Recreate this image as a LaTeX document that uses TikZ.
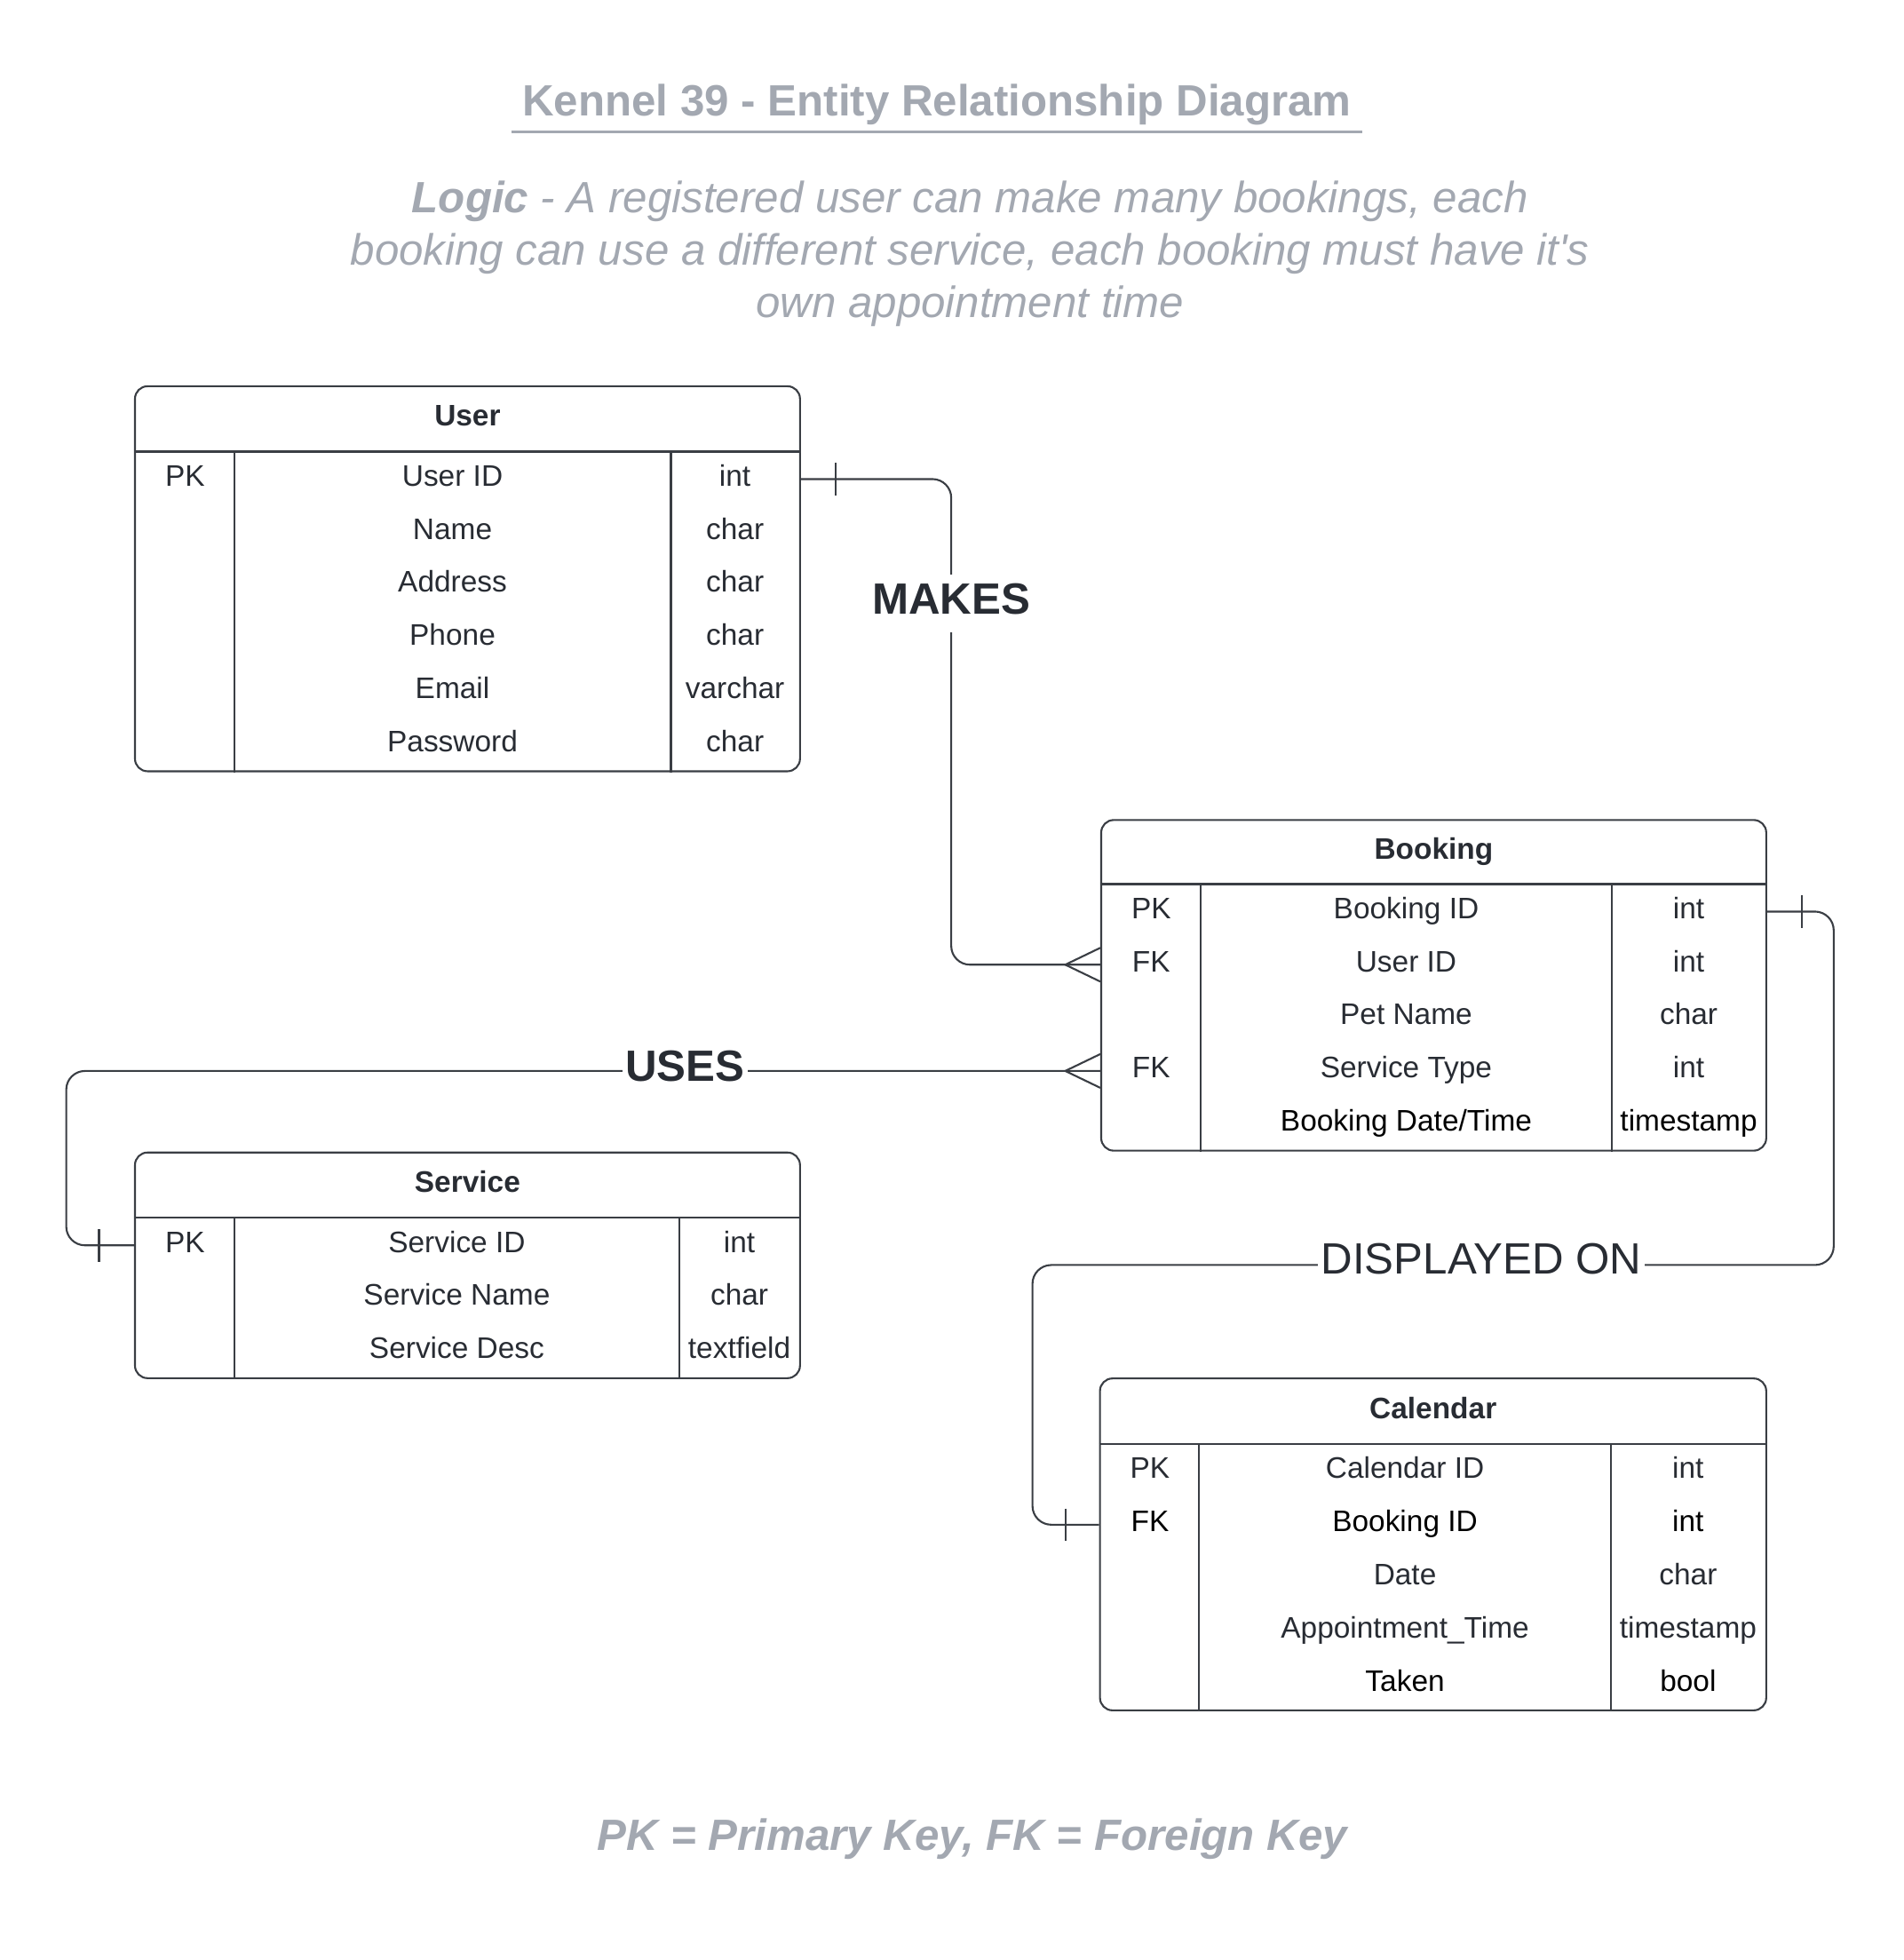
\documentclass[tikz,border=0pt]{standalone}
\usepackage{fontspec}
\setmainfont{Liberation Sans}
\usetikzlibrary{calc}
\definecolor{ergray}{RGB}{163,168,177}
\definecolor{erink}{RGB}{40,44,51}
\definecolor{erline}{RGB}{58,62,68}

\begin{document}
\begin{tikzpicture}[
    x=0.4pt, y=-0.4pt,
    entity/.style={draw=erline, line width=0.6pt, rounded corners=4pt, inner sep=0pt},
    divider/.style={draw=erline, line width=0.6pt},
    cell/.style={inner sep=0pt, text height=6pt, text depth=1.6pt, font=\fontsize{9.5}{11}\selectfont, text=erink},
    cellk/.style={cell, text=black},
    head/.style={cell, font=\fontsize{9.5}{11}\selectfont\bfseries},
    link/.style={draw=erline, line width=0.6pt, rounded corners=6pt},
    tickmark/.style={draw=erline, line width=0.6pt},
    relname/.style={fill=white, inner xsep=1pt, inner ysep=2.6pt, text height=10pt, text depth=3.2pt, text=erink, font=\fontsize{14}{16}\selectfont},
    note/.style={text=ergray, align=center, font=\fontsize{14}{16.8}\selectfont}
]
    \useasboundingbox (0,0) rectangle (1523,1568);

    % heading
    \node[note, font=\fontsize{14}{16.8}\selectfont\bfseries, text height=10pt, text depth=0pt, inner xsep=3.4pt, inner ysep=5pt] (title) at (749.5,80) {Kennel 39 - Entity Relationship Diagram};
    \draw[ergray, line width=0.8pt] (title.south west) -- (title.south east);
    \node[note, font=\fontsize{14}{16.8}\selectfont\itshape] (logic) at (776,203) {\textbf{Logic} - A registered user can make many bookings, each\\booking can use a different service, each booking must have it\textquotesingle s\\own appointment time};

    % User
    \node[entity, minimum width=212.8pt, minimum height=123.2pt] (user) at (374,463) {};
    \draw[divider] ($(user.north west)+(0,53)$) -- ($(user.north east)+(0,53)$);
    \draw[divider] ($(user.north west)+(80,53)$) -- ($(user.south west)+(80,0)$);
    \draw[divider] ($(user.north east)+(-104,53)$) -- ($(user.south east)+(-104,0)$);
    \node[head] (userHead) at (374,335.5) {User};
    \node[cell] (userPK) at (148,383.25) {PK};
    \node[cell] (userId) at (362,383.25) {User ID};
    \node[cell] (userIdT) at (588,383.25) {int};
    \node[cell] (userName) at (362,425.75) {Name};
    \node[cell] (userNameT) at (588,425.75) {char};
    \node[cell] (userAddr) at (362,468.25) {Address};
    \node[cell] (userAddrT) at (588,468.25) {char};
    \node[cell] (userPhone) at (362,510.75) {Phone};
    \node[cell] (userPhoneT) at (588,510.75) {char};
    \node[cell] (userMail) at (362,553.25) {Email};
    \node[cell] (userMailT) at (588,553.25) {varchar};
    \node[cell] (userPass) at (362,595.75) {Password};
    \node[cell] (userPassT) at (588,595.75) {char};

    % Booking
    \node[entity, minimum width=212.8pt, minimum height=105.8pt] (booking) at (1147,788.25) {};
    \draw[divider] ($(booking.north west)+(0,52)$) -- ($(booking.north east)+(0,52)$);
    \draw[divider] ($(booking.north west)+(80,52)$) -- ($(booking.south west)+(80,0)$);
    \draw[divider] ($(booking.north east)+(-124,52)$) -- ($(booking.south east)+(-124,0)$);
    \node[head] (bkHead) at (1147,682) {Booking};
    \node[cell] (bkPK) at (921,729.25) {PK};
    \node[cell] (bkId) at (1125,729.25) {Booking ID};
    \node[cell] (bkIdT) at (1351,729.25) {int};
    \node[cell] (bkUserFK) at (921,771.75) {FK};
    \node[cell] (bkUser) at (1125,771.75) {User ID};
    \node[cell] (bkUserT) at (1351,771.75) {int};
    \node[cell] (bkPet) at (1125,814.25) {Pet Name};
    \node[cell] (bkPetT) at (1351,814.25) {char};
    \node[cell] (bkServFK) at (921,856.75) {FK};
    \node[cell] (bkServ) at (1125,856.75) {Service Type};
    \node[cell] (bkServT) at (1351,856.75) {int};
    \node[cellk] (bkDate) at (1125,899.25) {Booking Date/Time};
    \node[cellk] (bkDateT) at (1351,899.25) {timestamp};

    % Service
    \node[entity, minimum width=212.8pt, minimum height=72.2pt] (service) at (374,1012.25) {};
    \draw[divider] ($(service.north west)+(0,53)$) -- ($(service.north east)+(0,53)$);
    \draw[divider] ($(service.north west)+(80,53)$) -- ($(service.south west)+(80,0)$);
    \draw[divider] ($(service.north east)+(-97,53)$) -- ($(service.south east)+(-97,0)$);
    \node[head] (svHead) at (374,948.5) {Service};
    \node[cell] (svPK) at (148,996.25) {PK};
    \node[cell] (svId) at (365.5,996.25) {Service ID};
    \node[cell] (svIdT) at (591.5,996.25) {int};
    \node[cell] (svName) at (365.5,1038.75) {Service Name};
    \node[cell] (svNameT) at (591.5,1038.75) {char};
    \node[cell] (svDesc) at (365.5,1081.25) {Service Desc};
    \node[cell] (svDescT) at (591.5,1081.25) {textfield};

    % Calendar
    \node[entity, minimum width=213.2pt, minimum height=106.2pt] (calendar) at (1146.5,1235.5) {};
    \draw[divider] ($(calendar.north west)+(0,53)$) -- ($(calendar.north east)+(0,53)$);
    \draw[divider] ($(calendar.north west)+(80,53)$) -- ($(calendar.south west)+(80,0)$);
    \draw[divider] ($(calendar.north east)+(-125,53)$) -- ($(calendar.south east)+(-125,0)$);
    \node[head] (calHead) at (1146.5,1129.5) {Calendar};
    \node[cell] (calPK) at (920,1177.25) {PK};
    \node[cell] (calId) at (1124,1177.25) {Calendar ID};
    \node[cell] (calIdT) at (1350.5,1177.25) {int};
    \node[cellk] (calFK) at (920,1219.75) {FK};
    \node[cellk] (calBk) at (1124,1219.75) {Booking ID};
    \node[cellk] (calBkT) at (1350.5,1219.75) {int};
    \node[cell] (calDate) at (1124,1262.25) {Date};
    \node[cell] (calDateT) at (1350.5,1262.25) {char};
    \node[cell] (calTime) at (1124,1304.75) {Appointment\_Time};
    \node[cell] (calTimeT) at (1350.5,1304.75) {timestamp};
    \node[cellk] (calTaken) at (1124,1347.25) {Taken};
    \node[cellk] (calTakenT) at (1350.5,1347.25) {bool};

    % relationships
    \coordinate (makesTurn) at (761,0);
    \coordinate (usesTurn) at (53,0);
    \coordinate (dispRight) at (1467,1012);
    \coordinate (dispLeft) at (826,1012);

    \draw[link] (user.east |- userPK) -| (makesTurn |- bkUserFK) -- (booking.west |- bkUserFK);
    \draw[link] (booking.west |- bkServFK) -| (usesTurn |- svPK) -- (service.west |- svPK);
    \draw[link] (booking.east |- bkPK) -| (dispRight) -| (dispLeft |- calFK) -- (calendar.west |- calFK);

    % one bars
    \draw[tickmark] ($(user.east |- userPK)+(28,-13)$) -- ($(user.east |- userPK)+(28,13)$);
    \draw[tickmark] ($(service.west |- svPK)+(-28,-13)$) -- ($(service.west |- svPK)+(-28,13)$);
    \draw[tickmark] ($(booking.east |- bkPK)+(28,-13)$) -- ($(booking.east |- bkPK)+(28,13)$);
    \draw[tickmark] ($(calendar.west |- calFK)+(-27,-13)$) -- ($(calendar.west |- calFK)+(-27,13)$);
    % crow's feet
    \draw[tickmark] ($(booking.west |- bkUserFK)+(0,-13.5)$) -- ($(booking.west |- bkUserFK)+(-28,0)$) -- ($(booking.west |- bkUserFK)+(0,13.5)$);
    \draw[tickmark] ($(booking.west |- bkServFK)+(0,-13.5)$) -- ($(booking.west |- bkServFK)+(-28,0)$) -- ($(booking.west |- bkServFK)+(0,13.5)$);

    \node[relname, font=\fontsize{14}{16}\selectfont\bfseries] (makes) at (761,483) {MAKES};
    \node[relname, font=\fontsize{14}{16}\selectfont\bfseries] (uses) at (548,856.5) {USES};
    \node[relname] (displayed) at (1185,1011) {DISPLAYED ON};

    % legend
    \node[note, font=\fontsize{14}{16.8}\selectfont\bfseries\itshape, text height=10pt, text depth=0pt] (legend) at (778,1468) {PK = Primary Key, FK = Foreign Key};
\end{tikzpicture}
\end{document}
